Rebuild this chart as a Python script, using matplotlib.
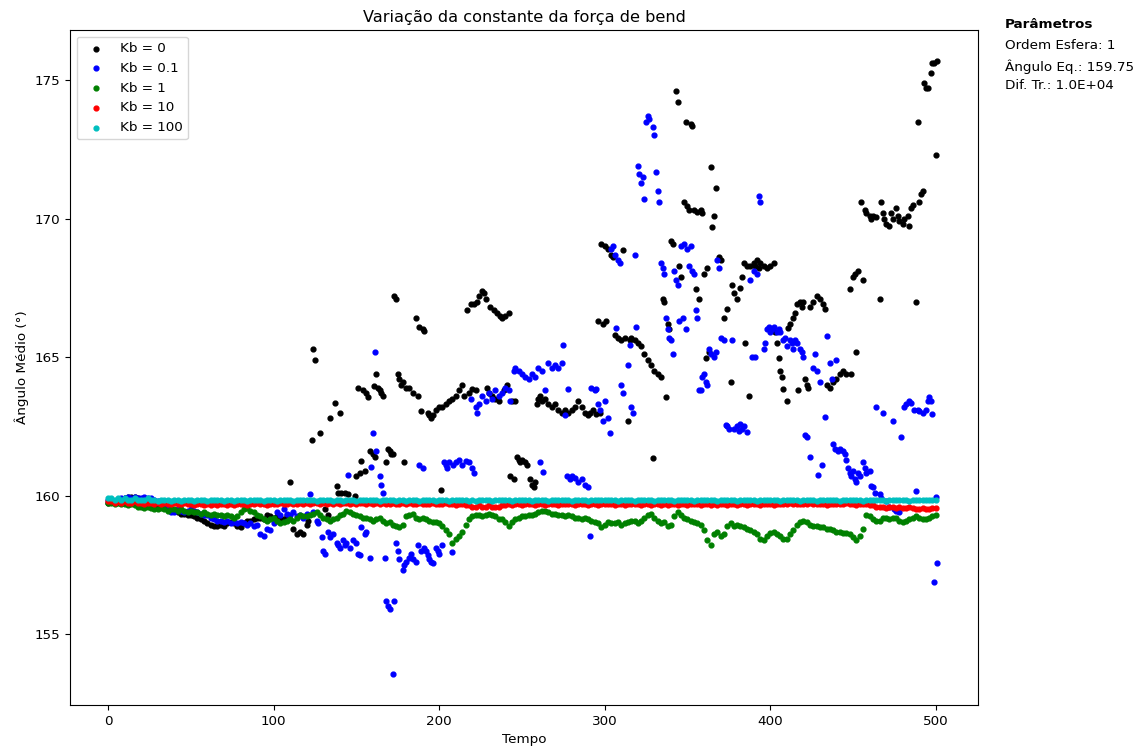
import matplotlib
matplotlib.use("Agg")
import matplotlib.pyplot as plt

plt.rcParams["font.size"] = 9.7

# Kb = 0 (tempo, ângulo)
kb0 = [(0,159.75),(2,159.8),(4,159.8),(6,159.85),(8,159.85),(10,159.9),(12,159.95),(14,159.95),(16,159.95),(18,159.9),
       (20,159.85),(22,159.8),(24,159.75),(26,159.7),(28,159.65),(30,159.6),(32,159.6),(34,159.55),(36,159.5),(38,159.45),
       (40,159.45),(42,159.4),(44,159.35),(46,159.35),(48,159.3),(50,159.3),(52,159.25),(54,159.2),(56,159.15),(58,159.1),
       (60,159.0),(62,158.95),(64,158.9),(66,158.9),(68,158.95),(70,158.9),(72,159.0),(74,159.05),(76,159.0),(78,158.9),
       (80,158.85),(82,159.0),(84,159.1),(86,159.1),(88,159.15),(90,159.2),(92,159.2),(94,159.15),(96,159.3),(98,159.25),
       (100,159.2),(102,159.25),(104,159.2),(106,159.15),(108,159.3),
       (110,160.5),(112,158.8),(114,158.6),(116,158.7),(118,158.6),(120,158.95),(121,159.1),(123,162.0),(124,165.3),(125,164.9),
       (128,162.25),(131,159.5),(133,159.3),(134,162.8),(137,163.35),(138,160.35),(139,160.1),(140,163.0),(141,160.1),(143,160.1),
       (145,160.05),(147,159.8),(149,160.0),(150,160.7),(151,163.9),(152,160.8),(153,161.25),(154,163.8),(155,160.9),(156,163.7),
       (157,163.55),(158,161.6),(160,161.5),(160.5,163.95),(161,161.4),(162,164.4),(163,163.9),(164,163.8),(165,163.7),(166,163.6),
       (168,161.2),(169,161.7),(170,161.6),(171,161.5),(172,161.5),(173,167.2),(174,167.1),(175,164.4),(176,164.2),(177,164.0),
       (178,164.1),(179,161.2),(180,163.9),(182,163.9),(184,163.7),(186,166.4),(187,163.6),(188,166.1),(189,163.05),(190,166.0),
       (191,165.95),(193,163.0),(194,162.9),(195,162.8),(196,162.9),(198,163.1),(200,163.2),(201,160.2),(202,163.2),(204,163.3),
       (206,163.4),(208,163.5),(210,163.6),(212,163.8),(214,164.0),(215,163.6),(217,166.7),(218,163.7),(219,166.9),(220,163.85),
       (221,166.9),(222,163.8),(223,167.0),(224,167.2),(226,167.4),(227,167.3),(228,167.1),(229,163.9),(230,163.7),(231,166.8),
       (232,163.6),(233,166.7),(234,163.5),(235,166.6),(236,163.4),(237,166.5),(238,166.4),(239,163.8),(240,166.5),(241,164.0),
       (242,166.6),(243,160.7),(244,163.4),(245,160.6),(246,163.4),(247,161.4),(248,161.3),(249,161.2),(250,161.3),(252,161.2),
       (253,161.1),(255,160.6),(256,160.4),(257,160.3),(258,160.5),(259,163.3),(260,163.5),(261,163.6),(262,163.4),(264,163.5),
       (266,163.3),(268,163.2),(270,163.3),(272,163.1),(274,163.0),(276,163.1),(278,163.0),(280,163.1),(282,163.2),(284,163.4),
       (286,163.2),(288,163.0),(290,162.9),(291,163.0),(293,163.1),(295,162.95),(296,166.3),(297,163.0),(298,169.1),(299,166.2),
       (300,169.0),(301,166.3),(302,168.9),(304,168.7),(305,168.6),(306,165.8),(308,165.7),(310,165.6),(311,168.85),(312,165.7),
       (314,162.7),(315,165.6),(316,165.7),(318,165.6),(320,165.5),(322,165.4),(324,165.1),(326,164.9),(328,164.7),(329,161.35),
       (330,164.5),(332,164.4),(334,164.3),(335,167.1),(336,167.0),(337,163.55),(338,166.2),(339,166.0),(340,169.2),(341,169.1),
       (343,174.6),(344,174.2),(345,168.3),(346,167.9),(348,170.6),(349,173.5),(350,170.45),(351,170.3),(352,173.4),(353,173.35),
       (354,170.3),(355,167.45),(356,170.25),(357,167.1),(358,170.3),(359,170.2),(360,168.0),(361,164.95),(362,168.2),(363,165.2),
       (364,171.85),(365,169.7),(366,170.1),(367,171.1),(369,168.6),(370,168.5),(372,166.4),(374,166.75),(376,164.1),(377,167.6),
       (378,167.3),(380,167.1),(382,167.5),(383,167.9),(384,168.4),(385,165.5),(386,168.3),(387,163.6),(388,168.3),(390,168.4),
       (391,168.3),(392,168.5),(393,168.2),(394,168.4),(396,168.3),(398,168.2),(400,168.3),(402,168.4),(403,165.9),(404,165.5),
       (405,164.95),(406,164.5),(407,164.3),(408,163.85),(410,163.4),(411,166.05),(412,166.2),(414,166.4),(415,166.6),(416,166.9),
       (417,163.8),(418,167.0),(419,166.8),(420,167.0),(421,164.2),(422,164.0),(423,163.9),(424,166.8),(426,167.0),(428,167.2),
       (430,167.1),(432,166.9),(433,166.75),(434,164.0),(436,163.9),(438,164.1),(440,164.2),(442,164.4),(444,164.5),(446,164.4),
       (448,167.45),(449,164.4),(450,167.9),(451,168.0),(452,165.2),(453,168.1),(455,170.6),(456,167.8),(457,170.3),(458,170.2),
       (460,170.1),(461,170.0),(462,170.1),(464,170.05),(466,167.1),(467,170.6),(468,170.2),(469,170.0),(470,169.8),(472,169.75),
       (473,170.2),(474,170.0),(476,170.4),(477,170.1),(478,169.9),(480,169.8),(481,170.0),(483,170.1),(484,169.75),(485,170.4),
       (486,170.5),(488,167.0),(489,173.5),(490,170.6),(491,170.9),(492,171.0),(493,174.9),(494,174.7),(495,174.7),(497,175.25),
       (498,175.6),(499,175.6),(500,172.3),(501,175.7)]

# Kb = 0.1
kb01 = [(0,159.85),(2,159.85),(4,159.8),(6,159.85),(8,159.9),(10,159.9),(12,159.95),(14,159.9),(16,159.95),(18,159.9),
        (20,159.9),(22,159.95),(24,159.9),(26,159.9),(28,159.85),(30,159.8),(32,159.7),(34,159.65),(36,159.55),(38,159.4),
        (40,159.4),(42,159.5),(44,159.45),(46,159.4),(48,159.45),(50,159.5),(52,159.45),(54,159.4),(56,159.35),(58,159.3),
        (60,159.3),(62,159.2),(64,159.15),(66,159.1),(68,159.1),(70,159.05),(72,159.1),(74,159.0),(76,159.05),(78,159.0),
        (80,159.05),(82,159.0),(84,158.95),(86,159.0),(88,158.9),(90,158.95),(92,158.6),(94,158.55),(96,158.8),(98,158.75),
        (100,159.0),(102,159.4),(104,159.3),(106,159.5),(108,159.35),(110,159.3),(112,159.4),(114,159.25),(116,159.3),(118,159.2),
        (120,159.35),(122,160.05),(124,159.4),(126,159.1),(127,159.0),(129,158.5),(130,158.0),(131,157.9),(133,158.7),(134,158.5),
        (136,158.6),(138,158.3),(139,158.2),(140,158.1),(142,158.4),(143,158.2),(144,158.3),(145,160.75),(146,158.1),(148,158.4),
        (150,158.3),(151,157.9),(152,157.85),(153,158.85),(155,158.6),(156,158.7),(158,157.75),(159,161.05),(160,162.25),(161,165.2),
        (162,161.6),(164,160.7),(165,160.4),(166,160.1),(167,157.75),(168,156.2),(169,156.0),(170,155.9),(172,153.55),(173,156.2),
        (174,158.3),(175,158.0),(176,157.7),(178,157.3),(179,157.5),(180,157.6),(182,157.75),(183,157.9),(184,157.7),(186,157.6),
        (187,158.2),(188,161.1),(189,158.0),(190,161.0),(191,158.1),(192,158.0),(193,157.85),(194,157.7),(195,157.6),(196,157.55),
        (198,158.1),(199,158.0),(200,157.9),(202,158.2),(203,161.2),(204,161.1),(205,161.0),(206,161.2),(208,157.95),(208.5,161.1),
        (210,161.2),(212,161.3),(214,161.1),(216,161.25),(218,161.2),(219,163.5),(220,161.0),(221,160.8),(222,163.2),(223,163.0),
        (224,163.3),(226,163.6),(228,163.4),(230,163.7),(232,163.5),(234,163.8),(236,163.6),(238,163.7),(240,163.9),(242,163.8),
        (243,163.4),(245,164.5),(246,164.6),(248,164.5),(250,164.4),(252,164.3),(254,164.2),(256,164.4),(258,164.3),(260,164.6),
        (261,161.2),(262,164.5),(263,160.85),(264,163.8),(266,164.8),(268,164.6),(270,164.7),(272,164.6),(274,164.8),(275,165.45),
        (276,162.9),(277,160.7),(278,163.85),(279,160.6),(280,160.7),(282,160.65),(284,160.5),(286,160.6),(288,160.4),(290,160.3),
        (291,158.55),(292,163.9),(294,163.8),(295,163.85),(296,163.3),(297,163.1),(299,162.7),(300,163.4),(302,162.8),(303,162.25),
        (304,168.9),(305,169.0),(306,168.7),(307,166.05),(308,168.5),(309,168.4),(310,164.0),(311,163.7),(314,164.7),(315,165.45),
        (316,163.2),(317,163.0),(318,168.7),(319,166.1),(320,171.9),(321,171.6),(322,171.3),(323,171.5),(324,170.7),(325,173.5),
        (326,173.7),(327,173.6),(329,173.3),(330,173.0),(331,171.7),(332,171.0),(333,170.6),(334,168.4),(335,168.2),(336,168.0),
        (337,166.4),(338,166.0),(339,165.7),(340,165.6),(341,165.1),(342,168.1),(343,167.8),(344,167.6),(345,166.3),(346,169.0),
        (347,166.4),(348,169.1),(349,166.0),(350,168.9),(351,168.3),(352,169.0),(353,168.1),(354,168.0),(355,166.7),(356,166.4),
        (357,163.8),(358,163.8),(359,164.3),(360,164.4),(361,164.1),(362,164.0),(363,165.3),(364,165.1),(366,165.0),(367,165.2),
        (368,168.5),(369,168.2),(370,165.7),(372,165.6),(373,162.55),(374,162.5),(375,162.4),(377,165.6),(378,162.4),(380,162.5),
        (381,162.35),(382,162.6),(383,162.4),(384,162.5),(386,162.3),(388,167.8),(389,165.0),(390,168.1),(391,165.0),(392,168.0),
        (393,170.8),(394,170.6),(396,165.3),(397,165.5),(398,166.0),(399,166.1),(400,165.9),(401,166.0),(402,166.1),(404,165.9),
        (405,166.0),(406,165.9),(408,165.6),(409,165.7),(410,165.4),(412,165.6),(413,165.5),(414,165.3),(415,165.6),(416,165.5),
        (418,165.3),(419,165.2),(420,165.0),(421,162.2),(422,162.1),(424,161.4),(426,164.6),(427,165.1),(428,164.5),(429,160.75),
        (430,164.1),(431,161.1),(433,162.85),(434,165.75),(436,164.8),(437,164.2),(438,161.85),(439,161.7),(440,164.9),(441,161.6),
        (442,161.7),(444,161.6),(445,161.5),(446,161.3),(447,161.0),(448,160.8),(449,160.7),(450,160.9),(451,160.6),(452,160.5),
        (453,160.8),(454,160.7),(456,161.2),(457,161.0),(458,160.8),(460,160.9),(461,160.35),(462,160.3),(463,160.1),(464,163.2),
        (466,160.05),(467,159.9),(468,163.0),(470,159.8),(472,159.6),(474,162.7),(475,159.5),(476,159.45),(478,159.4),(479,162.1),
        (481,163.2),(482,163.3),(484,163.4),(485,163.35),(487,163.1),(488,160.15),(489,163.1),(490,163.05),(492,163.0),(494,163.1),
        (495,163.4),(496,163.55),(497,163.4),(498,162.95),(499,156.9),(500,159.95),(501,157.55)]

# Kb = 1, 10, 100 amostrados a cada 2 passos
tempo = list(range(0, 501, 2))

kb1 = [159.75,159.75,159.7,159.75,159.7,159.7,159.65,159.7,159.65,159.6,
       159.6,159.55,159.6,159.55,159.5,159.5,159.55,159.5,159.45,159.5,
       159.5,159.45,159.5,159.45,159.4,159.45,159.4,159.4,159.35,159.4,
       159.35,159.3,159.35,159.3,159.3,159.25,159.3,159.25,159.2,159.25,
       159.4,159.5,159.55,159.45,159.4,159.3,159.25,159.15,159.1,159.15,
       159.2,159.1,159.0,159.05,159.1,159.15,159.1,159.2,159.3,159.25,
       159.25,159.3,159.35,159.4,159.3,159.2,159.15,159.1,159.15,159.2,
       159.3,159.35,159.45,159.4,159.35,159.3,159.25,159.2,159.2,159.15,
       159.1,159.15,159.2,159.1,159.0,159.05,158.95,158.9,158.85,158.95,
       159.25,159.3,159.35,159.2,159.15,159.2,159.15,159.1,159.05,159.05,
       159.0,158.9,158.75,158.6,158.3,158.45,158.55,158.7,158.95,159.15,
       159.25,159.3,159.3,159.25,159.3,159.35,159.3,159.25,159.15,159.15,
       159.05,158.9,159.05,159.15,159.2,159.25,159.25,159.3,159.3,159.35,
       159.4,159.45,159.45,159.4,159.35,159.35,159.3,159.3,159.25,159.3,
       159.25,159.2,159.2,159.15,159.2,159.15,159.1,159.05,159.0,158.85,
       158.95,159.05,159.0,159.0,159.05,158.95,159.0,159.05,159.1,159.1,
       159.0,159.1,159.2,159.3,159.35,159.2,159.1,159.0,159.05,158.9,
       158.95,159.25,159.4,159.3,159.2,159.15,159.1,159.05,159.0,158.95,
       158.75,158.4,158.2,158.6,158.7,158.55,158.6,158.9,159.0,158.9,
       158.95,158.9,158.85,158.8,158.75,158.7,158.6,158.45,158.4,158.55,
       158.65,158.7,158.6,158.55,158.45,158.45,158.6,158.75,158.95,159.05,
       159.1,159.05,158.95,158.9,158.9,158.85,158.85,158.8,158.8,158.75,
       158.7,158.7,158.65,158.65,158.6,158.5,158.4,158.55,158.8,159.3,
       159.25,159.15,159.1,159.1,159.2,159.2,159.15,159.2,159.2,159.1,
       159.05,159.1,159.15,159.2,159.25,159.2,159.15,159.15,159.2,159.25,
       159.3]

kb10 = [159.8,159.8,159.75,159.8,159.75,159.8,159.75,159.75,159.8,159.75,
        159.75,159.7,159.75,159.75,159.7,159.75,159.7,159.75,159.7,159.7,
        159.75,159.7,159.7,159.75,159.7,159.7,159.65,159.7,159.7,159.65,
        159.7,159.65,159.7,159.65,159.7,159.7,159.65,159.7,159.65,159.7,
        159.7,159.7,159.65,159.7,159.7,159.75,159.7,159.7,159.65,159.7,
        159.7,159.7,159.75,159.7,159.7,159.75,159.7,159.7,159.75,159.7,
        159.75,159.7,159.75,159.75,159.7,159.75,159.7,159.75,159.7,159.75,
        159.7,159.75,159.75,159.7,159.75,159.7,159.75,159.75,159.7,159.75,
        159.7,159.75,159.7,159.75,159.7,159.7,159.75,159.7,159.7,159.75,
        159.7,159.75,159.7,159.7,159.75,159.7,159.7,159.7,159.75,159.7,
        159.7,159.7,159.75,159.7,159.7,159.65,159.7,159.7,159.65,159.65,
        159.6,159.6,159.65,159.6,159.6,159.65,159.6,159.6,159.6,159.65,
        159.65,159.7,159.65,159.7,159.7,159.65,159.7,159.7,159.7,159.65,
        159.7,159.7,159.65,159.7,159.7,159.7,159.65,159.7,159.7,159.7,
        159.7,159.65,159.7,159.7,159.7,159.65,159.7,159.7,159.65,159.7,
        159.7,159.7,159.7,159.65,159.7,159.7,159.65,159.7,159.7,159.7,
        159.7,159.65,159.7,159.7,159.65,159.7,159.7,159.65,159.7,159.65,
        159.7,159.7,159.65,159.7,159.7,159.65,159.7,159.7,159.7,159.65,
        159.7,159.7,159.65,159.7,159.65,159.7,159.7,159.65,159.7,159.7,
        159.65,159.7,159.7,159.65,159.7,159.7,159.7,159.65,159.7,159.7,
        159.7,159.65,159.7,159.7,159.7,159.7,159.75,159.7,159.7,159.7,
        159.7,159.7,159.75,159.7,159.7,159.7,159.7,159.65,159.7,159.7,
        159.7,159.7,159.7,159.75,159.7,159.7,159.65,159.7,159.7,159.7,
        159.65,159.65,159.6,159.6,159.6,159.55,159.6,159.6,159.55,159.6,
        159.55,159.55,159.6,159.55,159.5,159.5,159.55,159.5,159.5,159.55,
        159.55]

kb100 = [159.9,159.9,159.85,159.9,159.85,159.9,159.85,159.85,159.9,159.85,
         159.85,159.85,159.9,159.85,159.85,159.8,159.85,159.85,159.85,159.8,
         159.85,159.85,159.8,159.85,159.85,159.85,159.8,159.85,159.85,159.85,
         159.8,159.85,159.85,159.85,159.85,159.8,159.85,159.85,159.8,159.85,
         159.85,159.85,159.8,159.85,159.85,159.85,159.85,159.8,159.85,159.85,
         159.85,159.8,159.85,159.85,159.85,159.85,159.8,159.85,159.85,159.85,
         159.85,159.85,159.85,159.8,159.85,159.85,159.85,159.85,159.8,159.85,
         159.85,159.8,159.85,159.85,159.85,159.8,159.85,159.85,159.85,159.85,
         159.85,159.85,159.8,159.85,159.85,159.85,159.85,159.8,159.85,159.85,
         159.8,159.85,159.85,159.85,159.8,159.85,159.85,159.85,159.85,159.8,
         159.85,159.85,159.85,159.8,159.85,159.85,159.85,159.85,159.85,159.8,
         159.85,159.8,159.85,159.85,159.85,159.85,159.8,159.85,159.85,159.85,
         159.85,159.85,159.8,159.85,159.85,159.85,159.85,159.85,159.8,159.85,
         159.85,159.85,159.85,159.8,159.85,159.85,159.85,159.85,159.85,159.85,
         159.8,159.85,159.85,159.85,159.85,159.8,159.85,159.85,159.85,159.85,
         159.85,159.85,159.85,159.85,159.8,159.85,159.85,159.85,159.85,159.8,
         159.85,159.85,159.85,159.85,159.85,159.8,159.85,159.85,159.85,159.85,
         159.85,159.8,159.85,159.85,159.85,159.85,159.85,159.8,159.85,159.85,
         159.85,159.85,159.85,159.85,159.8,159.85,159.85,159.85,159.85,159.85,
         159.8,159.85,159.85,159.85,159.85,159.85,159.8,159.85,159.85,159.85,
         159.85,159.85,159.85,159.8,159.85,159.85,159.85,159.85,159.85,159.8,
         159.85,159.85,159.85,159.85,159.8,159.85,159.85,159.85,159.85,159.85,
         159.85,159.8,159.85,159.85,159.85,159.85,159.85,159.85,159.8,159.85,
         159.85,159.85,159.85,159.85,159.85,159.8,159.85,159.85,159.85,159.85,
         159.85,159.85,159.8,159.85,159.85,159.85,159.85,159.85,159.85,159.85,
         159.85]

fig = plt.figure(figsize=(11.42, 7.54), dpi=100)
ax = fig.add_axes([0.0613, 0.065, 0.7951, 0.8952])

ax.scatter([p[0] for p in kb0], [p[1] for p in kb0], s=12, c="k", label="Kb = 0")
ax.scatter([p[0] for p in kb01], [p[1] for p in kb01], s=12, c="b", label="Kb = 0.1")
ax.scatter(tempo, kb1, s=12, c="g", label="Kb = 1")
ax.scatter(tempo, kb10, s=12, c="r", label="Kb = 10")
ax.scatter(tempo, kb100, s=12, c="c", label="Kb = 100")

ax.set_xlim(-23, 525.5)
ax.set_title("Variação da constante da força de bend", fontsize=11.6)
ax.set_xlabel("Tempo")
ax.set_ylabel("Ângulo Médio (°)")
ax.legend(loc="upper left")

fig.text(0.88, 0.967, "Parâmetros", fontweight="bold", va="center")
fig.text(0.88, 0.939, "Ordem Esfera: 1", va="center")
fig.text(0.88, 0.912, "Ângulo Eq.: 159.75", va="center")
fig.text(0.88, 0.886, "Dif. Tr.: 1.0E+04", va="center")

fig.savefig("out.png", dpi=100)
